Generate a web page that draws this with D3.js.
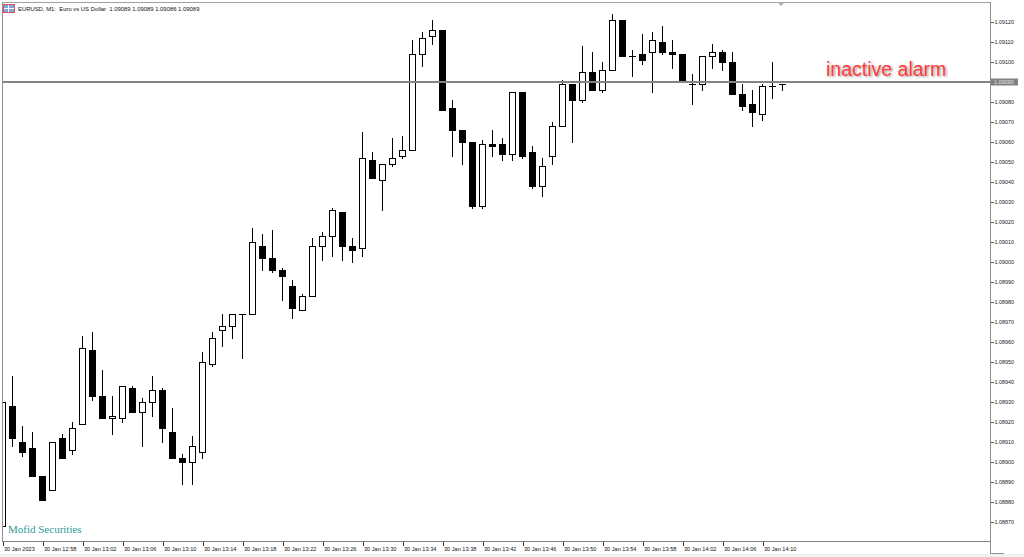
<!DOCTYPE html>
<html>
<head>
<meta charset="utf-8">
<script src="https://cdn.jsdelivr.net/npm/d3@7"></script>
<style>
  html, body { margin: 0; padding: 0; background: #ffffff; }
  svg { display: block; font-family: "Liberation Sans", Arial, sans-serif; }
</style>
</head>
<body>
<svg id="chart" width="1024" height="557"></svg>
<script>
// ---------------- DATA ----------------
const symbolTitle = "EURUSD, M1:  Euro vs US Dollar  1.09089 1.09089 1.09086 1.09089";
const startTime = "12:54"; // first bar, 30 Jan 2023, one bar per minute

const open = [
  1.08868, 1.08928, 1.08910, 1.08907, 1.08893, 1.08886, 1.08912, 1.08906, 1.08919, 1.08956,
  1.08933, 1.08922, 1.08922, 1.08937, 1.08925, 1.08930, 1.08936, 1.08915, 1.08902, 1.08900,
  1.08905, 1.08949, 1.08966, 1.08968, 1.08974, 1.08974, 1.09008, 1.09002, 1.08996, 1.08988,
  1.08976, 1.08983, 1.09008, 1.09013, 1.09025, 1.09008, 1.09007, 1.09051, 1.09041, 1.09049,
  1.09053, 1.09056, 1.09104, 1.09113, 1.09116, 1.09077, 1.09066, 1.09060, 1.09028, 1.09059,
  1.09059, 1.09054, 1.09085, 1.09055, 1.09038, 1.09053, 1.09068, 1.09089, 1.09081, 1.09095,
  1.09086, 1.09096, 1.09121, 1.09103, 1.09104, 1.09105, 1.09110, 1.09105, 1.09104, 1.09089,
  1.09089, 1.09103, 1.09105, 1.09100, 1.09084, 1.09079, 1.09074, 1.09088, 1.09089
];
const high = [
  1.08930, 1.08943, 1.08918, 1.08915, 1.08893, 1.08910, 1.08914, 1.08920, 1.08963, 1.08965,
  1.08946, 1.08933, 1.08938, 1.08938, 1.08932, 1.08943, 1.08937, 1.08927, 1.08904, 1.08913,
  1.08955, 1.08965, 1.08974, 1.08974, 1.08974, 1.09017, 1.09014, 1.09016, 1.08997, 1.08991,
  1.08984, 1.09012, 1.09015, 1.09027, 1.09025, 1.09012, 1.09065, 1.09055, 1.09049, 1.09062,
  1.09063, 1.09111, 1.09115, 1.09121, 1.09116, 1.09081, 1.09066, 1.09060, 1.09061, 1.09066,
  1.09062, 1.09085, 1.09085, 1.09058, 1.09052, 1.09070, 1.09091, 1.09089, 1.09108, 1.09105,
  1.09100, 1.09124, 1.09121, 1.09106, 1.09114, 1.09115, 1.09118, 1.09111, 1.09104, 1.09094,
  1.09103, 1.09109, 1.09106, 1.09105, 1.09089, 1.09086, 1.09089, 1.09100, 1.09089
];
const low = [
  1.08868, 1.08908, 1.08903, 1.08893, 1.08881, 1.08886, 1.08902, 1.08904, 1.08919, 1.08931,
  1.08922, 1.08914, 1.08920, 1.08925, 1.08908, 1.08923, 1.08910, 1.08902, 1.08889, 1.08889,
  1.08902, 1.08948, 1.08958, 1.08962, 1.08952, 1.08974, 1.08996, 1.08995, 1.08981, 1.08972,
  1.08976, 1.08983, 1.09001, 1.09003, 1.09001, 1.09000, 1.09003, 1.09042, 1.09026, 1.09048,
  1.09052, 1.09056, 1.09098, 1.09109, 1.09076, 1.09053, 1.09049, 1.09027, 1.09027, 1.09053,
  1.09051, 1.09051, 1.09052, 1.09037, 1.09033, 1.09049, 1.09068, 1.09060, 1.09080, 1.09086,
  1.09085, 1.09096, 1.09103, 1.09093, 1.09099, 1.09085, 1.09104, 1.09097, 1.09090, 1.09079,
  1.09086, 1.09097, 1.09096, 1.09084, 1.09076, 1.09068, 1.09071, 1.09082, 1.09086
];
const close = [
  1.08930, 1.08912, 1.08905, 1.08893, 1.08881, 1.08910, 1.08902, 1.08917, 1.08957, 1.08933,
  1.08922, 1.08923, 1.08938, 1.08925, 1.08930, 1.08936, 1.08917, 1.08902, 1.08900, 1.08908,
  1.08950, 1.08962, 1.08968, 1.08974, 1.08974, 1.09010, 1.09002, 1.08996, 1.08993, 1.08977,
  1.08983, 1.09008, 1.09013, 1.09026, 1.09008, 1.09006, 1.09052, 1.09042, 1.09049, 1.09052,
  1.09056, 1.09104, 1.09112, 1.09116, 1.09076, 1.09066, 1.09060, 1.09028, 1.09059, 1.09058,
  1.09054, 1.09085, 1.09053, 1.09038, 1.09048, 1.09068, 1.09089, 1.09081, 1.09095, 1.09086,
  1.09096, 1.09121, 1.09103, 1.09103, 1.09101, 1.09111, 1.09105, 1.09104, 1.09090, 1.09089,
  1.09103, 1.09105, 1.09100, 1.09084, 1.09078, 1.09075, 1.09088, 1.09088, 1.09089
];

const xTickLabels = [
  "30 Jan 2023", "30 Jan 12:58", "30 Jan 13:02", "30 Jan 13:06", "30 Jan 13:10",
  "30 Jan 13:14", "30 Jan 13:18", "30 Jan 13:22", "30 Jan 13:26", "30 Jan 13:30",
  "30 Jan 13:34", "30 Jan 13:38", "30 Jan 13:42", "30 Jan 13:46", "30 Jan 13:50",
  "30 Jan 13:54", "30 Jan 13:58", "30 Jan 14:02", "30 Jan 14:06", "30 Jan 14:10"
];
const xTickStep = 4; // one label every 4 bars
const yTickValues = [
  1.08870, 1.08880, 1.08890, 1.08900, 1.08910, 1.08920, 1.08930, 1.08940, 1.08950, 1.08960,
  1.08970, 1.08980, 1.08990, 1.09000, 1.09010, 1.09020, 1.09030, 1.09040, 1.09050, 1.09060,
  1.09070, 1.09080, 1.09090, 1.09100, 1.09110, 1.09120
];
const alarmPrice = 1.09090;
const alarmLabel = "inactive alarm";
const brokerLabel = "Mofid Securities";

// ---------------- LAYOUT ----------------
const W = 1024, H = 557;
const plot = { left: 2, right: 990, top: 2, bottom: 541 };

const svg = d3.select("#chart");

const bars = open.map((o, i) => ({ i, o, h: high[i], l: low[i], c: close[i] }));

const x = d3.scaleLinear().domain([0, bars.length - 1]).range([2.5, 2.5 + 10 * (bars.length - 1)]);
const y = d3.scaleLinear().domain([1.08870, 1.09120]).range([522, 22]);
const bodyW = 6;

// bottom grey strip
svg.append("rect").attr("x", 0).attr("y", 554).attr("width", W).attr("height", 3).attr("fill", "#f0f0f0");

// clip
const defs = svg.append("defs");
defs.append("clipPath").attr("id", "plotClip")
  .append("rect").attr("x", plot.left + 1).attr("y", plot.top + 1)
  .attr("width", plot.right - plot.left - 1).attr("height", plot.bottom - plot.top - 1);
defs.append("filter").attr("id", "shadowBlur")
  .append("feGaussianBlur").attr("stdDeviation", 0.9);

// frame
const frame = svg.append("g").attr("shape-rendering", "crispEdges");
frame.append("line").attr("x1", plot.left).attr("x2", plot.right).attr("y1", plot.top + 0.5).attr("y2", plot.top + 0.5).attr("stroke", "#a0a0a0");
frame.append("line").attr("x1", plot.left + 0.5).attr("x2", plot.left + 0.5).attr("y1", plot.top).attr("y2", plot.bottom).attr("stroke", "#909090");
frame.append("line").attr("x1", plot.right + 0.5).attr("x2", plot.right + 0.5).attr("y1", plot.top).attr("y2", 553).attr("stroke", "#909090");
frame.append("line").attr("x1", plot.right).attr("x2", 1004).attr("y1", 553.5).attr("y2", 553.5).attr("stroke", "#909090");
frame.append("line").attr("x1", plot.left).attr("x2", plot.right).attr("y1", plot.bottom + 0.5).attr("y2", plot.bottom + 0.5).attr("stroke", "#808080");

// header
const icon = svg.append("g").attr("shape-rendering", "crispEdges");
icon.append("rect").attr("x", 3.5).attr("y", 4.5).attr("width", 11).attr("height", 8).attr("fill", "#7fa6e0").attr("stroke", "#d9534f");
icon.append("line").attr("x1", 4).attr("x2", 14).attr("y1", 8.5).attr("y2", 8.5).attr("stroke", "#ffffff");
icon.append("line").attr("x1", 8.5).attr("x2", 8.5).attr("y1", 5).attr("y2", 12).attr("stroke", "#ffffff");
svg.append("text").attr("x", 18).attr("y", 11).attr("font-size", "5.9px").attr("fill", "#111")
  .style("white-space", "pre").text(symbolTitle);

// chart shift marker
svg.append("path").attr("d", "M777,2 L785,2 L781,6 Z").attr("fill", "#b0b0b0");

// candles
const gC = svg.append("g").attr("clip-path", "url(#plotClip)").attr("shape-rendering", "crispEdges");
const cs = gC.selectAll("g.candle").data(bars).join("g").attr("class", "candle");
const px = v => Math.round(y(v));

cs.append("line")
  .attr("x1", d => x(d.i)).attr("x2", d => x(d.i))
  .attr("y1", d => px(d.h)).attr("y2", d => px(d.l) + 1)
  .attr("stroke", "#000").attr("stroke-width", 1);

cs.filter(d => d.o !== d.c).append("rect")
  .attr("x", d => x(d.i) - bodyW / 2)
  .attr("y", d => px(Math.max(d.o, d.c)) + 0.5)
  .attr("width", bodyW)
  .attr("height", d => Math.max(1, px(Math.min(d.o, d.c)) - px(Math.max(d.o, d.c))))
  .attr("fill", d => d.c > d.o ? "#ffffff" : "#000000")
  .attr("stroke", "#000").attr("stroke-width", 1);

cs.filter(d => d.o === d.c).append("line")
  .attr("x1", d => x(d.i) - bodyW / 2 - 0.5).attr("x2", d => x(d.i) + bodyW / 2 + 0.5)
  .attr("y1", d => px(d.c) + 0.5).attr("y2", d => px(d.c) + 0.5)
  .attr("stroke", "#000").attr("stroke-width", 1);

// alarm line
svg.append("line")
  .attr("x1", plot.left + 1).attr("x2", plot.right)
  .attr("y1", y(alarmPrice)).attr("y2", y(alarmPrice))
  .attr("stroke", "#858585").attr("stroke-width", 2).attr("shape-rendering", "crispEdges");

// alarm text with soft shadow
svg.append("text").attr("x", 827.5).attr("y", 77).attr("font-size", "19.5px")
  .attr("fill", "#9a9a9a").attr("filter", "url(#shadowBlur)").text(alarmLabel);
svg.append("text").attr("x", 826).attr("y", 75.5).attr("font-size", "19.5px")
  .attr("fill", "#ff3b3b").text(alarmLabel);

// broker label
svg.append("text").attr("x", 8).attr("y", 533).attr("font-size", "11px")
  .style("font-family", "'Liberation Serif', 'Times New Roman', serif")
  .attr("fill", "#2f9a9c").text(brokerLabel);

// y axis
const yAxis = d3.axisRight(y).tickValues(yTickValues).tickSize(3).tickPadding(1)
  .tickFormat(d3.format(".5f"));
const gy = svg.append("g").attr("transform", `translate(${plot.right + 0.5},0)`).call(yAxis);
gy.select(".domain").remove();
gy.selectAll(".tick line").attr("stroke", "#555").attr("shape-rendering", "crispEdges");
gy.selectAll(".tick text").attr("font-size", "5.4px").attr("fill", "#222")
  .attr("font-family", "'Liberation Sans', Arial, sans-serif");

// highlighted price label
const hy = y(alarmPrice);
svg.append("rect").attr("x", 991).attr("y", hy - 3.5).attr("width", 27).attr("height", 7)
  .attr("fill", "#808080");
svg.append("text").attr("x", 994).attr("y", hy).attr("dy", "0.32em").attr("font-size", "5.4px")
  .attr("fill", "#e6e6e6").text(d3.format(".5f")(alarmPrice));

// x axis
const xTickIdx = xTickLabels.map((_, k) => k * xTickStep);
const xAxis = d3.axisBottom(x).tickValues(xTickIdx).tickSize(4)
  .tickFormat((d, k) => xTickLabels[k]);
const gx = svg.append("g").attr("transform", `translate(0,${plot.bottom + 0.5})`).call(xAxis);
gx.select(".domain").remove();
gx.selectAll(".tick line").attr("stroke", "#333").attr("shape-rendering", "crispEdges");
gx.selectAll(".tick text").attr("font-size", "5.6px").attr("fill", "#111")
  .attr("text-anchor", "start").attr("x", 1).attr("y", 9.5).attr("dy", 0)
  .attr("font-family", "'Liberation Sans', Arial, sans-serif");
</script>
</body>
</html>
